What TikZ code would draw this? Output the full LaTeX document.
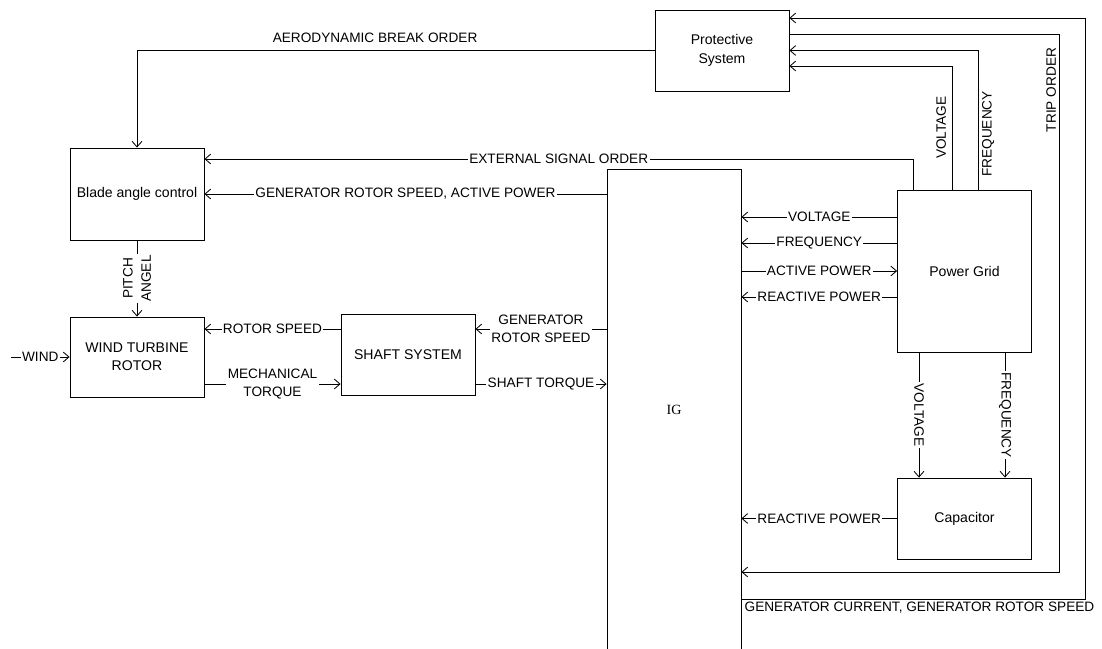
\documentclass[tikz,border=0pt]{standalone}
\usepackage{fontspec}
\setmainfont{Liberation Sans}
\newfontfamily\igfont{Liberation Serif}
\usetikzlibrary{arrows.meta}

\tikzset{
  block/.style={draw, line width=0.6pt, minimum width=3.35cm, minimum height=2.025cm,
    align=center, inner sep=0pt, font=\fontsize{10}{13}\selectfont},
  sig/.style={fill=white, inner sep=1pt, align=center},
  vlbl/.style={rotate=90, inner sep=1pt},
}

\begin{document}
\begin{tikzpicture}[x=0.025cm, y=-0.025cm, line width=0.6pt,
    >={Straight Barb[length=4pt,width=7pt]},
    font=\fontsize{9.7}{13}\selectfont]
    \useasboundingbox (0,0) rectangle (1102,649);
    \clip (0,0) rectangle (1102,649);

    % blocks
    \node[block] (prot) at (722,50.5) {Protective\\System};
    \node[block, minimum height=2.3cm] (blade) at (137,194) {Blade angle control};
    \node[block, minimum height=2cm] (wt) at (137,357) {WIND TURBINE\\ROTOR};
    \node[block] (shaft) at (408,354.5) {SHAFT SYSTEM};
    \node[block, minimum height=12.05cm, font=\igfont] (ig) at (674,410) {IG};
    \node[block, minimum height=4.05cm] (grid) at (964.5,271) {Power Grid};
    \node[block] (cap) at (964.5,518.5) {Capacitor};

    % protective system and blade control
    \draw[->] (prot.west) -| node[pos=0.27, above=0.08cm] {AERODYNAMIC BREAK ORDER} (blade.north);
    \draw[->] (grid.north -| 913,0) |- node[pos=0.75, sig] {EXTERNAL SIGNAL ORDER} (blade.east |- 0,159);
    \draw[->] (ig.west |- blade.east) -- node[sig] {GENERATOR ROTOR SPEED, ACTIVE POWER} (blade.east);
    \draw[->] (blade) -- node[sig, rotate=90] {PITCH\\ANGEL} (wt);

    % drive train
    \coordinate (windin) at (11,357);
    \draw[->] (windin) -- node[sig] {WIND} (wt.west);
    \draw[->] (shaft.west |- 0,329) -- node[sig] {ROTOR SPEED} (wt.east |- 0,329);
    \draw[->] (wt.east |- 0,384) -- node[sig] {MECHANICAL\\TORQUE} (shaft.west |- 0,384);
    \draw[->] (ig.west |- 0,329) -- node[sig] {GENERATOR\\ROTOR SPEED} (shaft.east |- 0,329);
    \draw[->] (shaft.east |- 0,384) -- node[sig] {SHAFT TORQUE} (ig.west |- 0,384);

    % grid side
    \foreach \yy/\txt in {217/VOLTAGE, 243/FREQUENCY, 297/REACTIVE POWER}
      \draw[->] (grid.west |- 0,\yy) -- node[sig] {\txt} (ig.east |- 0,\yy);
    \draw[->] (ig.east |- grid.west) -- node[sig] {ACTIVE POWER} (grid.west);
    \draw[->] (grid.south -| 919,0) -- node[sig, rotate=-90] {VOLTAGE} (cap.north -| 919,0);
    \draw[->] (grid.south -| 1005,0) -- node[sig, rotate=-90] {FREQUENCY} (cap.north -| 1005,0);
    \draw[->] (cap.west) -- node[sig] {REACTIVE POWER} (ig.east |- cap.west);

    % feedback to protective system
    \draw[->] (grid.north -| 952,0) |- node[pos=0.25, vlbl, anchor=south, outer sep=0.115cm] {VOLTAGE} (prot.east |- 0,66);
    \draw[->] (grid.north -| 978,0) |- node[pos=0.2, vlbl, anchor=north, outer sep=0.07cm] {FREQUENCY} (prot.east);
    \coordinate (tripc) at (1059,572);
    \draw[->] (prot.east |- 0,34) -| node[pos=0.552, vlbl, anchor=south, outer sep=0.04cm] {TRIP ORDER} (tripc) -- (ig.east |- tripc);
    \coordinate (genc) at (1085,18);
    \draw[->] (ig.east |- 0,599) node[below right, inner sep=2pt] {GENERATOR CURRENT, GENERATOR ROTOR SPEED} -| (genc) -- (prot.east |- genc);
\end{tikzpicture}
\end{document}
